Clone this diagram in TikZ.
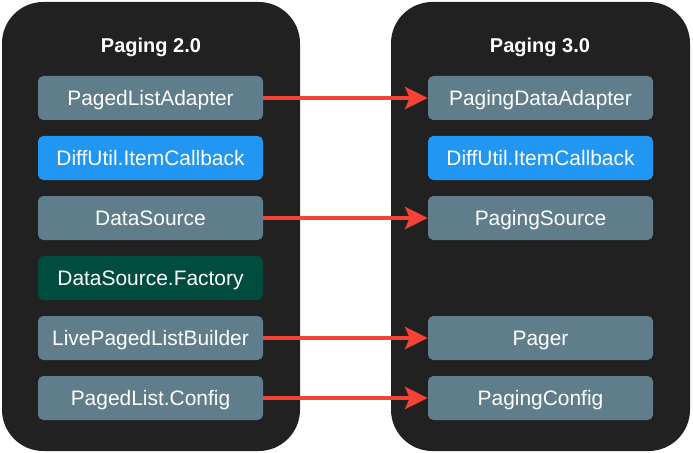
\documentclass[tikz,border=0pt]{standalone}
\usepackage{fontspec}
\setmainfont{Liberation Sans}
\usetikzlibrary{arrows.meta}
\definecolor{panelbg}{HTML}{212121}
\definecolor{itemgray}{HTML}{607D8B}
\definecolor{itemblue}{HTML}{2196F3}
\definecolor{itemgreen}{HTML}{004D40}
\definecolor{linkred}{HTML}{F44336}
\begin{document}
\begin{tikzpicture}[x=0.75pt,y=-0.75pt,
	panel/.style={fill=panelbg, rounded corners=31pt},
	title/.style={text=white, inner sep=0pt, text height=10.7pt, text depth=0pt, font=\fontsize{15}{18}\selectfont\bfseries},
	item/.style={fill=itemgray, rounded corners=4pt, minimum width=168.75pt, minimum height=33pt, inner sep=0pt, text height=11.2pt, text depth=0pt, text=white, font=\fontsize{15.7}{18}\selectfont},
	link/.style={draw=linkred, line width=3pt, -{Stealth[length=17pt, width=16.5pt, inset=3.5pt]}}]
			\useasboundingbox (0,0) rectangle (693,453);

			% Panels
			\fill[panel] (2,2) rectangle (300,451);
			\fill[panel] (391,2) rectangle (690,451);

			% Titles
			\node[title] (old) at (151,45.5) {Paging 2.0};
			\node[title] (new) at (540,45.5) {Paging 3.0};

			% Paging 2.0 items
			\node[item] (pla) at (150.5,98) {PagedListAdapter};
			\node[item, fill=itemblue] (cbold) at (150.5,158) {DiffUtil.ItemCallback};
			\node[item] (ds) at (150.5,218) {DataSource};
			\node[item, fill=itemgreen] (dsf) at (150.5,278) {DataSource.Factory};
			\node[item] (lplb) at (150.5,338) {LivePagedListBuilder};
			\node[item] (plc) at (150.5,398) {PagedList.Config};

			% Paging 3.0 items
			\node[item] (pda) at (540.5,98) {PagingDataAdapter};
			\node[item, fill=itemblue] (cbnew) at (540.5,158) {DiffUtil.ItemCallback};
			\node[item] (ps) at (540.5,218) {PagingSource};
			\node[item] (pager) at (540.5,338) {Pager};
			\node[item] (pc) at (540.5,398) {PagingConfig};

			% Arrows
			\draw[link] (pla.east) -- (pda.west);
			\draw[link] (ds.east) -- (ps.west);
			\draw[link] (lplb.east) -- (pager.west);
			\draw[link] (plc.east) -- (pc.west);
		\end{tikzpicture}
\end{document}
